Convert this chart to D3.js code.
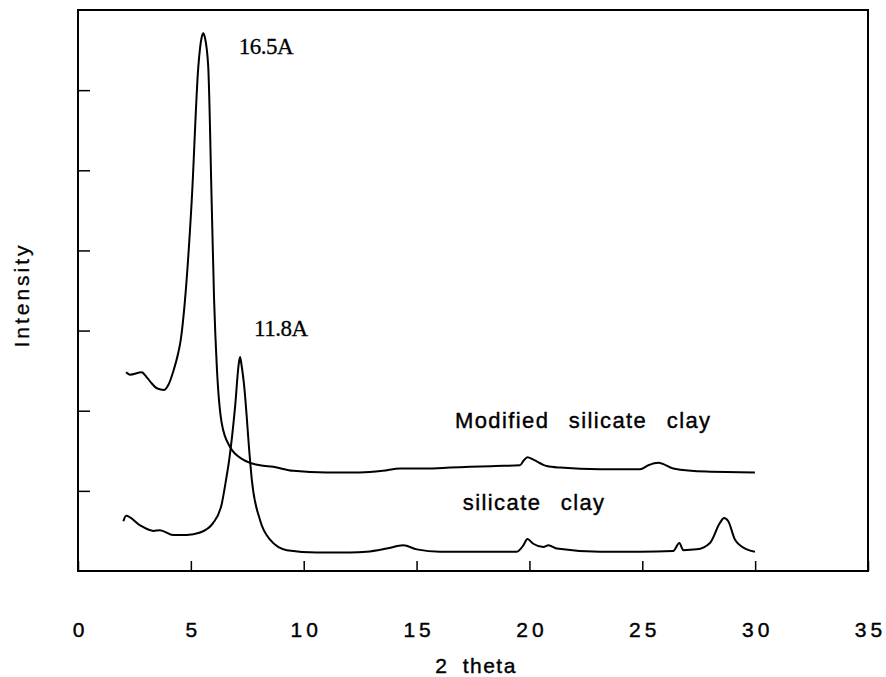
<!DOCTYPE html>
<html>
<head>
<meta charset="utf-8">
<script src="https://cdn.jsdelivr.net/npm/d3@7"></script>
<style>
  body { margin: 0; background: #fff; }
  text { fill: #000; }
</style>
</head>
<body>
<div id="chart"></div>
<script>
// XRD traces (2 theta, relative intensity)
var modifiedTheta = [2.13, 2.30, 2.82, 3.04, 3.27, 3.49, 3.82, 4.00, 4.22, 4.44, 4.55, 4.74, 5.04, 5.33, 5.48, 5.55, 5.62, 5.77, 5.92, 6.03, 6.15, 6.37, 6.73, 7.32, 8.06, 8.65, 9.54, 11.02, 12.49, 13.5, 14.27, 15.4, 16.48, 17.37, 18.5, 19.58, 19.75, 19.91, 20.17, 20.77, 21.36, 23.13, 24.90, 25.27, 25.71, 26.37, 27.85, 29.99];
var modifiedIntensity = [2.48, 2.45, 2.48, 2.42, 2.34, 2.28, 2.26, 2.32, 2.49, 2.72, 2.88, 3.38, 4.63, 6.29, 6.66, 6.71, 6.66, 6.29, 4.63, 3.38, 2.55, 1.84, 1.55, 1.39, 1.32, 1.30, 1.25, 1.23, 1.23, 1.25, 1.28, 1.28, 1.29, 1.30, 1.31, 1.32, 1.38, 1.42, 1.39, 1.31, 1.29, 1.27, 1.27, 1.32, 1.35, 1.28, 1.24, 1.23];

var clayTheta = [2.01, 2.13, 2.75, 3.34, 3.63, 4.22, 4.82, 5.41, 5.99, 6.37, 6.56, 6.70, 6.96, 7.12, 7.18, 7.24, 7.35, 7.62, 7.70, 8.06, 8.51, 9.25, 10.58, 12.05, 12.79, 13.68, 14.41, 15.01, 16.04, 19.44, 19.73, 19.91, 20.17, 20.62, 20.84, 21.21, 23.13, 24.90, 26.37, 26.64, 26.82, 27.41, 28.00, 28.44, 28.62, 28.81, 29.11, 29.63, 29.99];
var clayIntensity = [0.62, 0.69, 0.57, 0.50, 0.51, 0.45, 0.45, 0.48, 0.60, 0.84, 1.14, 1.39, 2.05, 2.58, 2.67, 2.58, 2.34, 1.39, 1.14, 0.64, 0.39, 0.26, 0.23, 0.23, 0.24, 0.28, 0.32, 0.27, 0.24, 0.24, 0.32, 0.40, 0.34, 0.30, 0.32, 0.28, 0.24, 0.24, 0.25, 0.35, 0.26, 0.27, 0.35, 0.60, 0.66, 0.62, 0.39, 0.27, 0.24];

var xTicks = [0, 5, 10, 15, 20, 25, 30, 35];
var yTicks = [1, 2, 3, 4, 5, 6];

var margin = {top: 10, right: 18, bottom: 106, left: 78},
    width = 886 - margin.left - margin.right,
    height = 677 - margin.top - margin.bottom;

var sans = "'Liberation Sans', Arial, sans-serif",
    serif = "'Liberation Serif', 'Times New Roman', serif";

var svg = d3.select("#chart")
  .append("svg")
  .attr("width", 886)
  .attr("height", 677)
  .append("g")
  .attr("transform", "translate(" + margin.left + "," + margin.top + ")");

var x = d3.scaleLinear().domain([0, 35]).range([0, width]);
var y = d3.scaleLinear().domain([0, 7]).range([height, 0]);

// bottom axis: inward ticks, labels far below
var xAxis = svg.append("g")
  .attr("transform", "translate(0," + height + ")")
  .call(d3.axisBottom(x).tickValues(xTicks).tickSize(-10).tickPadding(51).tickFormat(d3.format("d")));
xAxis.select(".domain").remove();
xAxis.selectAll("line").attr("stroke", "#000").attr("stroke-width", 1.5);
xAxis.selectAll("text")
  .style("font-family", sans)
  .style("font-size", "21px")
  .style("letter-spacing", "4px")
  .style("stroke", "#000")
  .style("stroke-width", "0.4px")
  .attr("dx", "2px");

// left axis: inward unlabeled ticks
var yAxis = svg.append("g")
  .call(d3.axisLeft(y).tickValues(yTicks).tickSize(-12).tickFormat(""));
yAxis.select(".domain").remove();
yAxis.selectAll("line").attr("stroke", "#000").attr("stroke-width", 1.5);

// frame
svg.append("rect")
  .attr("x", 0).attr("y", 0)
  .attr("width", width).attr("height", height)
  .attr("fill", "none")
  .attr("stroke", "#000")
  .attr("stroke-width", 2);

var line = d3.line()
  .x(function(d) { return x(d[0]); })
  .y(function(d) { return y(d[1]); })
  .curve(d3.curveMonotoneX);

svg.append("path")
  .datum(d3.zip(modifiedTheta, modifiedIntensity))
  .attr("d", line)
  .attr("fill", "none")
  .attr("stroke", "#000")
  .attr("stroke-width", 2);

svg.append("path")
  .datum(d3.zip(clayTheta, clayIntensity))
  .attr("d", line)
  .attr("fill", "none")
  .attr("stroke", "#000")
  .attr("stroke-width", 2);

// peak labels
svg.append("text")
  .attr("x", x(7.12)).attr("y", y(6.45))
  .style("font-family", serif)
  .style("font-size", "23px")
  .style("letter-spacing", "-0.5px")
  .style("stroke", "#000")
  .style("stroke-width", "0.3px")
  .text("16.5A");

svg.append("text")
  .attr("x", x(7.8)).attr("y", y(2.93))
  .style("font-family", serif)
  .style("font-size", "23px")
  .style("letter-spacing", "-0.5px")
  .style("stroke", "#000")
  .style("stroke-width", "0.3px")
  .text("11.8A");

// series labels
svg.append("text")
  .attr("x", x(16.7)).attr("y", y(1.78))
  .style("font-family", sans)
  .style("font-size", "22px")
  .style("letter-spacing", "1.4px")
  .style("word-spacing", "12px")
  .style("stroke", "#000")
  .style("stroke-width", "0.4px")
  .text("Modified silicate clay");

svg.append("text")
  .attr("x", x(17.05)).attr("y", y(0.76))
  .style("font-family", sans)
  .style("font-size", "22px")
  .style("letter-spacing", "1.4px")
  .style("word-spacing", "12px")
  .style("stroke", "#000")
  .style("stroke-width", "0.4px")
  .text("silicate clay");

// axis titles
svg.append("text")
  .attr("x", width / 2 + 3)
  .attr("y", height + 102)
  .attr("text-anchor", "middle")
  .style("font-family", sans)
  .style("font-size", "21px")
  .style("word-spacing", "7px")
  .style("letter-spacing", "1.5px")
  .style("stroke", "#000")
  .style("stroke-width", "0.4px")
  .text("2 theta");

svg.append("text")
  .attr("transform", "translate(" + (-49) + "," + 285 + ")rotate(-90)")
  .attr("text-anchor", "middle")
  .style("font-family", sans)
  .style("font-size", "21px")
  .style("letter-spacing", "3px")
  .style("stroke", "#000")
  .style("stroke-width", "0.3px")
  .text("Intensity");
</script>
</body>
</html>
